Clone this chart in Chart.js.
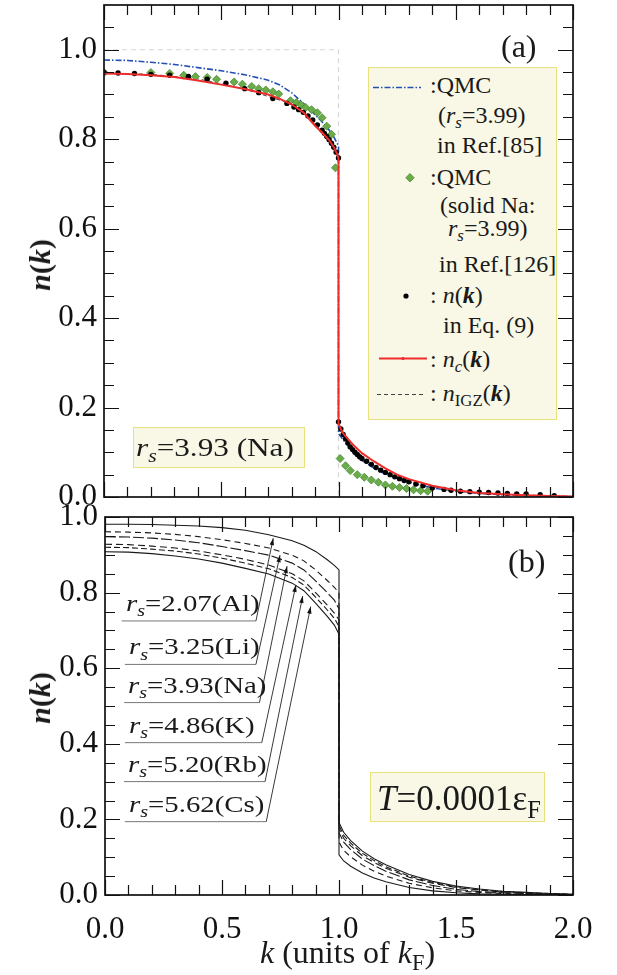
<!DOCTYPE html>
<html>
<head>
<meta charset="utf-8">
<script src="https://cdn.jsdelivr.net/npm/chart.js@4.4.1/dist/chart.umd.min.js"></script>
<style>
body { margin: 0; background: #fff; }
#wrap { position: relative; width: 617px; height: 975px; font-family: 'Liberation Serif', 'Times New Roman', serif; color: #1a1a1a; }
canvas { position: absolute; left: 0; }
.t { position: absolute; white-space: nowrap; line-height: 1; }
.t sub { font-size: 70%; position: relative; top: 0.32em; vertical-align: baseline; line-height: 0; }
.box { position: absolute; background: #f9f8e6; border: 1.5px solid #e8e27c; box-sizing: border-box; }
.leg { font-size: 24px; }
.lab { font-size: 24px; transform: scaleX(1.2); transform-origin: left center; }
.ytitle { font-size: 30px; font-weight: bold; transform: translate(-50%, -50%) rotate(-90deg); }
svg { position: absolute; left: 0; top: 0; }
</style>
</head>
<body>
<div id="wrap">
  <canvas id="chartA" width="617" height="505" style="top:0"></canvas>
  <canvas id="chartB" width="617" height="470" style="top:505px"></canvas>
</div>
<script>
// ---- panel (a) : Na, rs = 3.93 ----
const kStep = [0, 1, 1];
const nStep = [1, 1, 0];

const kNc = [0, 0.1, 0.2, 0.3, 0.4, 0.5, 0.6, 0.7, 0.75, 0.8, 0.85, 0.9, 0.93, 0.96, 0.98, 0.995, 1.0,
             1.0, 1.01, 1.02, 1.04, 1.06, 1.08, 1.1, 1.15, 1.2, 1.25, 1.3, 1.4, 1.5, 1.6, 1.7, 1.8, 1.9, 2.0];
const nNc = [0.947, 0.946, 0.943, 0.939, 0.931, 0.922, 0.912, 0.900, 0.890, 0.878, 0.860, 0.830, 0.815, 0.798, 0.782, 0.766, 0.757,
             0.165, 0.152, 0.142, 0.130, 0.118, 0.108, 0.098, 0.080, 0.064, 0.050, 0.040, 0.025, 0.015, 0.009, 0.006, 0.004, 0.002, 0.001];

const kEq9 = [0, 0.06, 0.13, 0.2, 0.28, 0.36, 0.44, 0.52, 0.6, 0.66, 0.72, 0.78, 0.81, 0.83, 0.85, 0.87, 0.89, 0.91, 0.93, 0.94, 0.95, 0.96, 0.97, 0.98, 0.99, 1.0,
              1.0, 1.01, 1.02, 1.03, 1.04, 1.05, 1.06, 1.07, 1.08, 1.09, 1.10, 1.12, 1.14, 1.16, 1.18, 1.20, 1.22, 1.24, 1.26, 1.28, 1.30, 1.33, 1.36,
              1.40, 1.45, 1.48, 1.52, 1.56, 1.60, 1.64, 1.68, 1.72, 1.76, 1.80, 1.86, 1.92];
const nEq9 = [0.949, 0.948, 0.947, 0.945, 0.943, 0.940, 0.934, 0.925, 0.913, 0.904, 0.891, 0.880, 0.872, 0.866, 0.860, 0.852, 0.843, 0.832, 0.820, 0.813, 0.806, 0.799, 0.791, 0.782, 0.771, 0.758,
              0.168, 0.152, 0.140, 0.130, 0.121, 0.112, 0.106, 0.100, 0.095, 0.090, 0.086, 0.080, 0.073, 0.066, 0.060, 0.055, 0.050, 0.045, 0.041, 0.037, 0.034, 0.029, 0.025,
              0.020, 0.017, 0.015, 0.013, 0.012, 0.011, 0.010, 0.009, 0.008, 0.007, 0.007, 0.005, 0.003];

const kIgz = [0, 0.2, 0.4, 0.6, 0.8, 0.9, 0.95, 1.0, 1.0, 1.05, 1.1, 1.2, 1.3, 1.5, 1.7, 2.0];
const nIgz = [0.948, 0.945, 0.935, 0.912, 0.879, 0.835, 0.803, 0.758, 0.168, 0.112, 0.086, 0.055, 0.034, 0.013, 0.006, 0.001];

const kQmc = [0, 0.1, 0.2, 0.3, 0.4, 0.5, 0.6, 0.7, 0.75, 0.8, 0.85, 0.9, 0.95, 0.98, 1.0,
              1.0, 1.02, 1.05, 1.1, 1.15, 1.2, 1.3, 1.4, 1.5, 1.6, 1.7, 1.8, 1.9, 2.0];
const nQmc = [0.977, 0.976, 0.972, 0.967, 0.960, 0.953, 0.944, 0.932, 0.921, 0.904, 0.880, 0.855, 0.828, 0.805, 0.785,
              0.142, 0.128, 0.108, 0.082, 0.065, 0.051, 0.033, 0.020, 0.013, 0.008, 0.005, 0.003, 0.002, 0.001];

const kSolid = [0, 0.2, 0.28, 0.34, 0.39, 0.44, 0.48, 0.555, 0.59, 0.63, 0.66, 0.69, 0.72, 0.745, 0.795, 0.82, 0.84, 0.86, 0.885, 0.91, 0.93, 0.95, 0.97, 0.987,
                1.007, 1.03, 1.05, 1.08, 1.11, 1.14, 1.17, 1.2, 1.23, 1.26, 1.29, 1.32, 1.35, 1.38];
const nSolid = [0.949, 0.949, 0.947, 0.943, 0.940, 0.938, 0.934, 0.928, 0.923, 0.918, 0.913, 0.910, 0.906, 0.901, 0.886, 0.882, 0.877, 0.871, 0.866, 0.859, 0.848, 0.829, 0.811, 0.736,
                0.086, 0.070, 0.059, 0.050, 0.044, 0.038, 0.033, 0.027, 0.024, 0.021, 0.019, 0.016, 0.014, 0.013];

// ---- panel (b) : six metals ----
const kB = [0, 0.1, 0.2, 0.3, 0.4, 0.5, 0.6, 0.7, 0.8, 0.85, 0.9, 0.95, 0.98, 1.0,
            1.0, 1.02, 1.05, 1.1, 1.15, 1.2, 1.3, 1.4, 1.5, 1.6, 1.7, 1.8, 1.9, 2.0];
const nAl = [0.981, 0.981, 0.980, 0.978, 0.976, 0.972, 0.965, 0.953, 0.937, 0.925, 0.909, 0.887, 0.872, 0.860,
             0.106, 0.090, 0.076, 0.058, 0.045, 0.035, 0.020, 0.011, 0.006, 0.003, 0.002, 0.001, 0.0005, 0.0002];
const nLi = [0.961, 0.960, 0.958, 0.954, 0.948, 0.940, 0.930, 0.918, 0.899, 0.884, 0.860, 0.832, 0.814, 0.800,
             0.140, 0.118, 0.101, 0.079, 0.063, 0.050, 0.031, 0.019, 0.011, 0.007, 0.004, 0.002, 0.001, 0.0005];
const nNa = [0.948, 0.947, 0.944, 0.939, 0.932, 0.922, 0.911, 0.899, 0.878, 0.860, 0.831, 0.800, 0.780, 0.757,
             0.165, 0.140, 0.120, 0.095, 0.078, 0.063, 0.040, 0.025, 0.015, 0.009, 0.006, 0.004, 0.002, 0.001];
const nK  = [0.928, 0.927, 0.923, 0.918, 0.910, 0.900, 0.888, 0.873, 0.850, 0.831, 0.800, 0.767, 0.746, 0.728,
             0.176, 0.150, 0.130, 0.104, 0.086, 0.071, 0.047, 0.031, 0.020, 0.013, 0.008, 0.005, 0.003, 0.002];
const nRb = [0.920, 0.919, 0.915, 0.910, 0.902, 0.891, 0.878, 0.863, 0.840, 0.820, 0.788, 0.754, 0.732, 0.710,
             0.184, 0.158, 0.137, 0.110, 0.091, 0.075, 0.050, 0.033, 0.022, 0.014, 0.009, 0.006, 0.004, 0.002];
const nCs = [0.908, 0.907, 0.903, 0.897, 0.889, 0.878, 0.864, 0.849, 0.825, 0.805, 0.772, 0.737, 0.714, 0.690,
             0.192, 0.166, 0.144, 0.116, 0.096, 0.080, 0.054, 0.036, 0.024, 0.016, 0.010, 0.007, 0.004, 0.002];

// label annotations in (b), data coords
const rsNames = ['2.07(Al)', '3.25(Li)', '3.93(Na)', '4.86(K)', '5.20(Rb)', '5.62(Cs)'];
const lineN  = [0.725, 0.610, 0.509, 0.403, 0.300, 0.194];
const lineK0 = [0.071, 0.085, 0.082, 0.085, 0.081, 0.085];
const lineK1 = [0.645, 0.645, 0.660, 0.670, 0.684, 0.689];
const tipK   = [0.719, 0.748, 0.778, 0.816, 0.845, 0.879];
const tipN   = [0.944, 0.899, 0.870, 0.820, 0.791, 0.763];

// ticks
const xMajor = [0, 0.5, 1, 1.5, 2];
const xMinor = [0.1, 0.2, 0.3, 0.4, 0.6, 0.7, 0.8, 0.9, 1.1, 1.2, 1.3, 1.4, 1.6, 1.7, 1.8, 1.9];
const yMajorA = [0, 0.2, 0.4, 0.6, 0.8, 1.0];
const yMinorA = [0.05, 0.1, 0.15, 0.25, 0.3, 0.35, 0.45, 0.5, 0.55, 0.65, 0.7, 0.75, 0.85, 0.9, 0.95, 1.05];
const yMajorB = [0, 0.2, 0.4, 0.6, 0.8, 1.0];
const yMinorB = [0.05, 0.1, 0.15, 0.25, 0.3, 0.35, 0.45, 0.5, 0.55, 0.65, 0.7, 0.75, 0.85, 0.9, 0.95];

const RED = '#ee2c2c', BLUE = '#2350b2', GREEN = '#6aac4a', GREEN_EDGE = '#468a2e', INK = '#1a1a1a';
const FONT = "'Liberation Serif', 'Times New Roman', serif";

const pts = (ks, ns) => ks.map((k, i) => ({ x: k, y: ns[i] }));

// frame + inward ticks on all four sides
const frameTicks = {
  id: 'frameTicks',
  afterDraw(chart, args, o) {
    const { ctx, chartArea: a, scales: { x, y } } = chart;
    ctx.save();
    ctx.strokeStyle = '#111';
    ctx.lineWidth = 1.2;
    ctx.beginPath();
    const xt = (vals, len) => vals.forEach(v => {
      const p = Math.round(x.getPixelForValue(v)) + 0.5;
      ctx.moveTo(p, a.bottom); ctx.lineTo(p, a.bottom - len);
      ctx.moveTo(p, a.top); ctx.lineTo(p, a.top + len);
    });
    const yt = (vals, len) => vals.forEach(v => {
      const p = Math.round(y.getPixelForValue(v)) + 0.5;
      ctx.moveTo(a.left, p); ctx.lineTo(a.left + len, p);
      ctx.moveTo(a.right, p); ctx.lineTo(a.right - len, p);
    });
    xt(o.xMajor, 15); xt(o.xMinor, 10);
    yt(o.yMajor, 15); yt(o.yMinor, 10);
    ctx.stroke();
    ctx.lineWidth = 1.7;
    ctx.strokeRect(a.left, a.top, a.right - a.left, a.bottom - a.top);
    ctx.restore();
  }
};

// underlines + arrows of (b)
const leaders = {
  id: 'leaders',
  afterDatasetsDraw(chart) {
    const { ctx, scales: { x, y } } = chart;
    ctx.save();
    rsNames.forEach((nm, i) => {
      const x0 = x.getPixelForValue(lineK0[i]), x1 = x.getPixelForValue(lineK1[i]);
      const yl = y.getPixelForValue(lineN[i]);
      const tx = x.getPixelForValue(tipK[i]), ty = y.getPixelForValue(tipN[i]);
      ctx.strokeStyle = '#777';
      ctx.lineWidth = 1;
      ctx.beginPath();
      ctx.moveTo(x0, yl); ctx.lineTo(x1, yl);
      ctx.stroke();
      ctx.strokeStyle = '#222';
      ctx.lineWidth = 0.9;
      ctx.beginPath();
      ctx.moveTo(x1, yl); ctx.lineTo(tx, ty);
      ctx.stroke();
      const ang = Math.atan2(ty - yl, tx - x1);
      ctx.fillStyle = '#111';
      ctx.beginPath();
      ctx.moveTo(tx, ty);
      ctx.lineTo(tx - 7 * Math.cos(ang) + 2.2 * Math.sin(ang), ty - 7 * Math.sin(ang) - 2.2 * Math.cos(ang));
      ctx.lineTo(tx - 7 * Math.cos(ang) - 2.2 * Math.sin(ang), ty - 7 * Math.sin(ang) + 2.2 * Math.cos(ang));
      ctx.closePath();
      ctx.fill();
    });
    ctx.restore();
  }
};

// no label padding reserved by the scales, the frame sits where the layout says
const noPad = s => { s.paddingTop = 0; s.paddingBottom = 0; s.paddingLeft = 0; s.paddingRight = 0; };

function axisOpts(yTicks, yMax, yWidth, xHeight, showX) {
  return {
    x: {
      type: 'linear', min: 0, max: 2,
      grid: { display: false, drawTicks: false }, border: { display: false },
      afterBuildTicks: s => { s.ticks = xMajor.map(v => ({ value: v })); },
      ticks: { display: showX, padding: 16, color: '#111', font: { family: FONT, size: 31 }, callback: v => v.toFixed(1), maxRotation: 0 },
      afterFit: s => { s.height = xHeight; noPad(s); }
    },
    y: {
      min: 0, max: yMax,
      grid: { display: false, drawTicks: false }, border: { display: false },
      afterBuildTicks: s => { s.ticks = yTicks.map(v => ({ value: v })); },
      ticks: { padding: 7, color: '#111', font: { family: FONT, size: 31 }, callback: v => v.toFixed(1) },
      afterFit: s => { s.width = yWidth; noPad(s); }
    }
  };
}

const chartA = new Chart(document.getElementById('chartA'), {
  type: 'scatter',
  data: {
    datasets: [
      { label: 'step', data: pts(kStep, nStep), showLine: true, borderColor: '#d6d6d6', borderWidth: 1.2, borderDash: [5, 4], pointRadius: 0, order: 6 },
      { label: 'nIGZ', data: pts(kIgz, nIgz), showLine: true, borderColor: '#444', borderWidth: 1, borderDash: [4, 3], pointRadius: 0, order: 5 },
      { label: 'QMC rs=3.99', data: pts(kQmc, nQmc), showLine: true, borderColor: BLUE, borderWidth: 1.6, borderDash: [6, 2, 1.5, 2], pointRadius: 0, order: 4 },
      { label: 'QMC solid Na', data: pts(kSolid, nSolid), pointStyle: 'rectRot', pointRadius: 4, backgroundColor: GREEN, borderColor: GREEN_EDGE, borderWidth: 0.8, order: 3 },
      { label: 'n(k) Eq.9', data: pts(kEq9, nEq9), pointRadius: 2.7, backgroundColor: '#000', borderColor: '#000', borderWidth: 0, order: 2 },
      { label: 'nc', data: pts(kNc, nNc), showLine: true, borderColor: RED, borderWidth: 2, pointRadius: 0, order: 1 }
    ]
  },
  options: {
    responsive: false, animation: false, events: [],
    layout: { padding: { top: 5, right: 44, left: 0, bottom: 0 } },
    plugins: { legend: { display: false }, tooltip: { enabled: false },
      frameTicks: { xMajor, xMinor, yMajor: yMajorA, yMinor: yMinorA } },
    scales: axisOpts(yMajorA, 1.1, 104, 8, false)
  },
  plugins: [frameTicks]
});

const lineB = (nm, ns, dash) => ({ label: nm, data: pts(kB, ns), showLine: true, borderColor: INK, borderWidth: 1.1, borderDash: dash, pointRadius: 0 });

const chartB = new Chart(document.getElementById('chartB'), {
  type: 'scatter',
  data: {
    datasets: [
      lineB('Al', nAl, []),
      lineB('Li', nLi, [6, 4]),
      lineB('Na', nNa, [11, 3]),
      lineB('K', nK, [7, 4]),
      lineB('Rb', nRb, [6, 3]),
      lineB('Cs', nCs, [])
    ]
  },
  options: {
    responsive: false, animation: false, events: [],
    layout: { padding: { top: 12, right: 44, left: 0, bottom: 0 } },
    plugins: { legend: { display: false }, tooltip: { enabled: false },
      frameTicks: { xMajor, xMinor, yMajor: yMajorB, yMinor: yMinorB } },
    scales: axisOpts(yMajorB, 1.0, 105, 80, true)
  },
  plugins: [frameTicks, leaders]
});

// ---- text overlays ----
const wrap = document.getElementById('wrap');
function addText(html, cls, left, top, extra) {
  const d = document.createElement('div');
  d.className = 't ' + cls;
  d.innerHTML = html;
  d.style.left = left + 'px';
  d.style.top = top + 'px';
  if (extra) Object.assign(d.style, extra);
  wrap.appendChild(d);
  return d;
}
function addBox(l, t, w, h) {
  const b = document.createElement('div');
  b.className = 'box';
  Object.assign(b.style, { left: l + 'px', top: t + 'px', width: w + 'px', height: h + 'px' });
  wrap.appendChild(b);
}

// legend of (a)
addBox(368, 67, 189, 353);
const kb = '(<b><i>k</i></b>)';
addText(':QMC', 'leg', 430, 73);
addText('(<i>r<sub>s</sub></i>=3.99)', 'leg', 438, 103);
addText('in Ref.[85]', 'leg', 437, 133);
addText(':QMC', 'leg', 430, 165);
addText('(solid Na:', 'leg', 440, 193);
addText('<i>r<sub>s</sub></i>=3.99)', 'leg', 448, 216);
addText('in Ref.[126]', 'leg', 439, 252);
addText(': <i>n</i>' + kb, 'leg', 430, 283);
addText('in Eq. (9)', 'leg', 443, 313);
addText(': <i>n<sub>c</sub></i>' + kb, 'leg', 430, 347);
addText(': <i>n</i><sub>IGZ</sub>' + kb, 'leg', 430, 381);

const svgNS = 'http://www.w3.org/2000/svg';
const svg = document.createElementNS(svgNS, 'svg');
svg.setAttribute('width', 617); svg.setAttribute('height', 975);
svg.innerHTML =
  `<line x1="373" y1="87.5" x2="421" y2="87.5" stroke="${BLUE}" stroke-width="1.6" stroke-dasharray="6 2 1.5 2"/>` +
  `<polygon points="410,173.5 414.2,177.7 410,181.9 405.8,177.7" fill="${GREEN}" stroke="${GREEN_EDGE}" stroke-width="0.8"/>` +
  `<circle cx="406" cy="296" r="2.6" fill="#000"/>` +
  `<line x1="379" y1="358.5" x2="427" y2="358.5" stroke="${RED}" stroke-width="2"/>` +
  `<circle cx="403" cy="358.5" r="1.6" fill="${RED}"/>` +
  `<line x1="377" y1="394.5" x2="425" y2="394.5" stroke="#444" stroke-width="1" stroke-dasharray="4 3"/>`;
wrap.appendChild(svg);

addText('(a)', '', 501, 30, { fontSize: '32px' });
addText('(b)', '', 508, 545, { fontSize: '32px' });

addBox(133, 427, 172, 41);
addText('<i>r<sub>s</sub></i>=3.93 (Na)', 'lab', 136, 435, { fontSize: '26px' });

addBox(370, 772, 175, 50);
addText('<i>T</i>=0.0001ε<sub>F</sub>', '', 377, 781, { fontSize: '35px' });

addText('<i>n</i>' + kb, 'ytitle', 40, 265);
addText('<i>n</i>' + kb, 'ytitle', 40, 698);
addText('<i>k</i> (units of <i>k</i><sub>F</sub>)', '', 260, 936, { fontSize: '32px' });

// rs labels in (b)
const xs = chartB.scales.x, ys = chartB.scales.y;
rsNames.forEach((nm, i) => {
  const top = 505 + ys.getPixelForValue(lineN[i]) - 30;
  addText('<i>r<sub>s</sub></i>=' + nm, 'lab', xs.getPixelForValue(lineK0[i]) + 4, top);
});
</script>
</body>
</html>
